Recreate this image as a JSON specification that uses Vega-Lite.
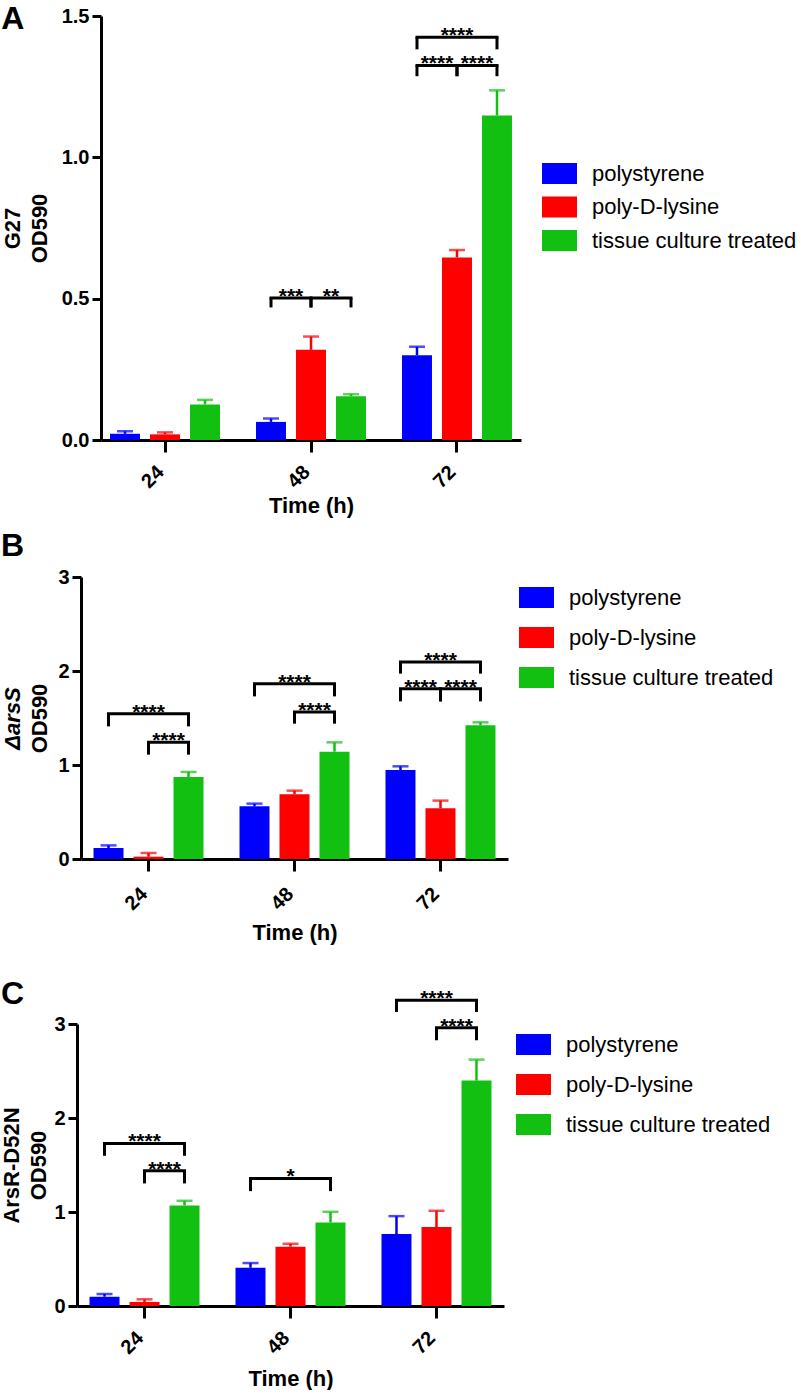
{
  "$schema": "https://vega.github.io/schema/vega-lite/v6.json",
  "padding": {"left": 0, "top": 3, "right": 0, "bottom": 0},
  "spacing": 13,
  "config": {
    "font": "Liberation Sans",
    "view": {"stroke": null},
    "axis": {"domainColor": "#000", "domainWidth": 3, "tickColor": "#000", "tickWidth": 3, "labelColor": "#000", "labelFont": "Liberation Sans", "labelFontSize": 20, "labelFontWeight": "bold", "titleColor": "#000", "titleFont": "Liberation Sans", "titleFontSize": 22, "titleFontWeight": "bold", "grid": false},
    "axisX": {"tickSize": 12, "labelAngle": -45, "labelAlign": "right", "labelBaseline": "alphabetic", "labelPadding": 21, "titlePadding": 4},
    "axisY": {"tickSize": 9, "labelPadding": 3, "titlePadding": 10, "titleLineHeight": 27},
    "legend": {"labelFont": "Liberation Sans", "labelFontSize": 22, "labelColor": "#000", "labelLimit": 0, "symbolType": "M-1,-0.6H1V0.6H-1Z", "symbolSize": 1225, "symbolStrokeWidth": 0, "labelOffset": 15, "title": null, "padding": 0, "orient": "none"},
    "title": {"font": "Liberation Sans", "fontSize": 32, "fontWeight": "bold", "anchor": "start", "frame": "bounds", "color": "#000"}
  },
  "datasets": {
    "bars": [
      {"panel": "A", "time": "24", "surface": "polystyrene", "mean": 0.022, "upper": 0.031},
      {"panel": "A", "time": "24", "surface": "poly-D-lysine", "mean": 0.02, "upper": 0.027},
      {"panel": "A", "time": "24", "surface": "tissue culture treated", "mean": 0.126, "upper": 0.142},
      {"panel": "A", "time": "48", "surface": "polystyrene", "mean": 0.064, "upper": 0.076},
      {"panel": "A", "time": "48", "surface": "poly-D-lysine", "mean": 0.319, "upper": 0.366},
      {"panel": "A", "time": "48", "surface": "tissue culture treated", "mean": 0.155, "upper": 0.162},
      {"panel": "A", "time": "72", "surface": "polystyrene", "mean": 0.30, "upper": 0.33},
      {"panel": "A", "time": "72", "surface": "poly-D-lysine", "mean": 0.646, "upper": 0.672},
      {"panel": "A", "time": "72", "surface": "tissue culture treated", "mean": 1.148, "upper": 1.237},
      {"panel": "B", "time": "24", "surface": "polystyrene", "mean": 0.117, "upper": 0.145},
      {"panel": "B", "time": "24", "surface": "poly-D-lysine", "mean": 0.025, "upper": 0.064},
      {"panel": "B", "time": "24", "surface": "tissue culture treated", "mean": 0.872, "upper": 0.926},
      {"panel": "B", "time": "48", "surface": "polystyrene", "mean": 0.56, "upper": 0.589},
      {"panel": "B", "time": "48", "surface": "poly-D-lysine", "mean": 0.688, "upper": 0.727},
      {"panel": "B", "time": "48", "surface": "tissue culture treated", "mean": 1.142, "upper": 1.241},
      {"panel": "B", "time": "72", "surface": "polystyrene", "mean": 0.947, "upper": 0.986},
      {"panel": "B", "time": "72", "surface": "poly-D-lysine", "mean": 0.539, "upper": 0.621},
      {"panel": "B", "time": "72", "surface": "tissue culture treated", "mean": 1.422, "upper": 1.454},
      {"panel": "C", "time": "24", "surface": "polystyrene", "mean": 0.099, "upper": 0.128},
      {"panel": "C", "time": "24", "surface": "poly-D-lysine", "mean": 0.043, "upper": 0.071},
      {"panel": "C", "time": "24", "surface": "tissue culture treated", "mean": 1.07, "upper": 1.119},
      {"panel": "C", "time": "48", "surface": "polystyrene", "mean": 0.407, "upper": 0.457},
      {"panel": "C", "time": "48", "surface": "poly-D-lysine", "mean": 0.631, "upper": 0.662},
      {"panel": "C", "time": "48", "surface": "tissue culture treated", "mean": 0.889, "upper": 1.002},
      {"panel": "C", "time": "72", "surface": "polystyrene", "mean": 0.765, "upper": 0.956},
      {"panel": "C", "time": "72", "surface": "poly-D-lysine", "mean": 0.84, "upper": 1.013},
      {"panel": "C", "time": "72", "surface": "tissue culture treated", "mean": 2.398, "upper": 2.621}
    ],
    "brackets": [
      {"panel": "A", "time": "48", "id": "A48PL", "from": "polystyrene", "to": "poly-D-lysine", "mid": "polystyrene | poly-D-lysine", "top": 0.502, "leg": 0.469, "label": "***"},
      {"panel": "A", "time": "48", "id": "A48LT", "from": "poly-D-lysine", "to": "tissue culture treated", "mid": "poly-D-lysine | tissue culture treated", "top": 0.502, "leg": 0.469, "label": "**"},
      {"panel": "A", "time": "72", "id": "A72PL", "from": "polystyrene", "to": "poly-D-lysine", "mid": "polystyrene | poly-D-lysine", "top": 1.325, "leg": 1.287, "label": "****"},
      {"panel": "A", "time": "72", "id": "A72LT", "from": "poly-D-lysine", "to": "tissue culture treated", "mid": "poly-D-lysine | tissue culture treated", "top": 1.325, "leg": 1.287, "label": "****"},
      {"panel": "A", "time": "72", "id": "A72PT", "from": "polystyrene", "to": "tissue culture treated", "mid": "poly-D-lysine", "top": 1.425, "leg": 1.382, "label": "****"},
      {"panel": "B", "time": "24", "id": "B24PT", "from": "polystyrene", "to": "tissue culture treated", "mid": "poly-D-lysine", "top": 1.546, "leg": 1.411, "label": "****"},
      {"panel": "B", "time": "24", "id": "B24LT", "from": "poly-D-lysine", "to": "tissue culture treated", "mid": "poly-D-lysine | tissue culture treated", "top": 1.241, "leg": 1.11, "label": "****"},
      {"panel": "B", "time": "48", "id": "B48PT", "from": "polystyrene", "to": "tissue culture treated", "mid": "poly-D-lysine", "top": 1.865, "leg": 1.73, "label": "****"},
      {"panel": "B", "time": "48", "id": "B48LT", "from": "poly-D-lysine", "to": "tissue culture treated", "mid": "poly-D-lysine | tissue culture treated", "top": 1.564, "leg": 1.44, "label": "****"},
      {"panel": "B", "time": "72", "id": "B72PT", "from": "polystyrene", "to": "tissue culture treated", "mid": "poly-D-lysine", "top": 2.096, "leg": 1.972, "label": "****"},
      {"panel": "B", "time": "72", "id": "B72PL", "from": "polystyrene", "to": "poly-D-lysine", "mid": "polystyrene | poly-D-lysine", "top": 1.812, "leg": 1.677, "label": "****"},
      {"panel": "B", "time": "72", "id": "B72LT", "from": "poly-D-lysine", "to": "tissue culture treated", "mid": "poly-D-lysine | tissue culture treated", "top": 1.812, "leg": 1.677, "label": "****"},
      {"panel": "C", "time": "24", "id": "C24PT", "from": "polystyrene", "to": "tissue culture treated", "mid": "poly-D-lysine", "top": 1.729, "leg": 1.598, "label": "****"},
      {"panel": "C", "time": "24", "id": "C24LT", "from": "poly-D-lysine", "to": "tissue culture treated", "mid": "poly-D-lysine | tissue culture treated", "top": 1.438, "leg": 1.304, "label": "****"},
      {"panel": "C", "time": "48", "id": "C48PT", "from": "polystyrene", "to": "tissue culture treated", "mid": "poly-D-lysine", "top": 1.357, "leg": 1.222, "label": "*"},
      {"panel": "C", "time": "72", "id": "C72PT", "from": "polystyrene", "to": "tissue culture treated", "mid": "poly-D-lysine", "top": 3.252, "leg": 3.128, "label": "****"},
      {"panel": "C", "time": "72", "id": "C72LT", "from": "poly-D-lysine", "to": "tissue culture treated", "mid": "poly-D-lysine | tissue culture treated", "top": 2.961, "leg": 2.827, "label": "****"}
    ]
  },
  "resolve": {"scale": {"x": "independent", "y": "independent", "color": "independent"}, "legend": {"color": "independent"}},
  "vconcat": [
    {
      "width": 420, "height": 424,
      "title": {"text": "A", "offset": -30},
      "layer": [
        {
          "data": {"name": "bars"}, "transform": [{"filter": "datum.panel === 'A'"}],
          "mark": {"type": "bar", "width": 30},
          "encoding": {
            "x": {"field": "time", "type": "nominal", "sort": ["24", "48", "72"], "scale": {"paddingInner": 0.315, "paddingOuter": 0.096}, "axis": {"title": "Time (h)"}},
            "xOffset": {"field": "surface", "type": "nominal", "scale": {"domain": ["polystyrene", "polystyrene | poly-D-lysine", "poly-D-lysine", "poly-D-lysine | tissue culture treated", "tissue culture treated"], "paddingInner": 0, "paddingOuter": 0}},
            "y": {"field": "mean", "type": "quantitative", "scale": {"domain": [0, 1.5], "nice": false}, "axis": {"title": ["G27", "OD590"], "values": [0, 0.5, 1, 1.5], "format": ".1f", "titlePadding": 10}},
            "color": {"field": "surface", "type": "nominal", "scale": {"domain": ["polystyrene", "poly-D-lysine", "tissue culture treated"], "range": ["#0000ff", "#ff0000", "#12c012"]}, "legend": {"legendX": 441, "legendY": 140, "rowPadding": 4.5}}
          }
        },
        {
          "data": {"name": "bars"}, "transform": [{"filter": "datum.panel === 'A'"}],
          "mark": {"type": "rule", "strokeWidth": 2.5},
          "encoding": {
            "x": {"field": "time", "type": "nominal", "sort": ["24", "48", "72"]},
            "xOffset": {"field": "surface", "type": "nominal"},
            "y": {"field": "mean", "type": "quantitative"},
            "y2": {"field": "upper"},
            "color": {"field": "surface", "type": "nominal", "legend": null}
          }
        },
        {
          "data": {"name": "bars"}, "transform": [{"filter": "datum.panel === 'A'"}],
          "mark": {"type": "tick", "size": 16, "thickness": 2.5, "orient": "horizontal"},
          "encoding": {
            "x": {"field": "time", "type": "nominal", "sort": ["24", "48", "72"]},
            "xOffset": {"field": "surface", "type": "nominal"},
            "y": {"field": "upper", "type": "quantitative"},
            "color": {"field": "surface", "type": "nominal", "legend": null}
          }
        },
        {
          "data": {"name": "brackets"}, "transform": [{"filter": "datum.panel === 'A'"}, {"fold": ["from", "to"], "as": ["end", "pos"]}],
          "mark": {"type": "line", "strokeWidth": 3, "color": "#000", "strokeCap": "square"},
          "encoding": {
            "x": {"field": "time", "type": "nominal", "sort": ["24", "48", "72"]},
            "xOffset": {"field": "pos", "type": "nominal"},
            "y": {"field": "top", "type": "quantitative"},
            "detail": {"field": "id"}
          }
        },
        {
          "data": {"name": "brackets"}, "transform": [{"filter": "datum.panel === 'A'"}, {"fold": ["from", "to"], "as": ["end", "pos"]}],
          "mark": {"type": "rule", "strokeWidth": 3, "color": "#000"},
          "encoding": {
            "x": {"field": "time", "type": "nominal", "sort": ["24", "48", "72"]},
            "xOffset": {"field": "pos", "type": "nominal"},
            "y": {"field": "top", "type": "quantitative"},
            "y2": {"field": "leg"}
          }
        },
        {
          "data": {"name": "brackets"}, "transform": [{"filter": "datum.panel === 'A'"}],
          "mark": {"type": "text", "baseline": "alphabetic", "dy": 5, "fontSize": 21, "fontWeight": "bold", "color": "#000"},
          "encoding": {
            "x": {"field": "time", "type": "nominal", "sort": ["24", "48", "72"]},
            "xOffset": {"field": "mid", "type": "nominal"},
            "y": {"field": "top", "type": "quantitative"},
            "text": {"field": "label"}
          }
        }
      ]
    },
    {
      "width": 407, "height": 282,
      "title": {"text": "B", "offset": 4},
      "resolve": {"axis": {"y": "independent"}},
      "layer": [
        {
          "data": {"name": "bars"}, "transform": [{"filter": "datum.panel === 'B'"}],
          "mark": {"type": "bar", "width": 30},
          "encoding": {
            "x": {"field": "time", "type": "nominal", "sort": ["24", "48", "72"], "scale": {"range": [-20, 407], "paddingInner": 0.315, "paddingOuter": 0.12}, "axis": {"title": ["Time (h)", ""], "titleLineHeight": 21, "labelPadding": 24, "titlePadding": 9}},
            "xOffset": {"field": "surface", "type": "nominal", "scale": {"domain": ["polystyrene", "polystyrene | poly-D-lysine", "poly-D-lysine", "poly-D-lysine | tissue culture treated", "tissue culture treated"], "paddingInner": 0, "paddingOuter": 0}},
            "y": {"field": "mean", "type": "quantitative", "scale": {"domain": [0, 3], "nice": false}, "axis": {"title": "OD590", "values": [0, 1, 2, 3], "format": "d", "offset": 20, "titlePadding": 6}},
            "color": {"field": "surface", "type": "nominal", "scale": {"domain": ["polystyrene", "poly-D-lysine", "tissue culture treated"], "range": ["#0000ff", "#ff0000", "#12c012"]}, "legend": {"legendX": 418, "legendY": 3, "rowPadding": 11}}
          }
        },
        {
          "data": {"name": "bars"}, "transform": [{"filter": "datum.panel === 'B'"}],
          "mark": {"type": "rule", "strokeWidth": 2.5},
          "encoding": {
            "x": {"field": "time", "type": "nominal", "sort": ["24", "48", "72"]},
            "xOffset": {"field": "surface", "type": "nominal"},
            "y": {"field": "mean", "type": "quantitative", "axis": {"orient": "left", "title": "ΔarsS", "titleFontStyle": "italic", "labels": false, "ticks": false, "domain": false, "titlePadding": 57, "offset": 20}},
            "y2": {"field": "upper"},
            "color": {"field": "surface", "type": "nominal", "legend": null}
          }
        },
        {
          "data": {"name": "bars"}, "transform": [{"filter": "datum.panel === 'B'"}],
          "mark": {"type": "tick", "size": 16, "thickness": 2.5, "orient": "horizontal"},
          "encoding": {
            "x": {"field": "time", "type": "nominal", "sort": ["24", "48", "72"]},
            "xOffset": {"field": "surface", "type": "nominal"},
            "y": {"field": "upper", "type": "quantitative", "axis": null},
            "color": {"field": "surface", "type": "nominal", "legend": null}
          }
        },
        {
          "data": {"name": "brackets"}, "transform": [{"filter": "datum.panel === 'B'"}, {"fold": ["from", "to"], "as": ["end", "pos"]}],
          "mark": {"type": "line", "strokeWidth": 3, "color": "#000", "strokeCap": "square"},
          "encoding": {
            "x": {"field": "time", "type": "nominal", "sort": ["24", "48", "72"]},
            "xOffset": {"field": "pos", "type": "nominal"},
            "y": {"field": "top", "type": "quantitative", "axis": null},
            "detail": {"field": "id"}
          }
        },
        {
          "data": {"name": "brackets"}, "transform": [{"filter": "datum.panel === 'B'"}, {"fold": ["from", "to"], "as": ["end", "pos"]}],
          "mark": {"type": "rule", "strokeWidth": 3, "color": "#000"},
          "encoding": {
            "x": {"field": "time", "type": "nominal", "sort": ["24", "48", "72"]},
            "xOffset": {"field": "pos", "type": "nominal"},
            "y": {"field": "top", "type": "quantitative", "axis": null},
            "y2": {"field": "leg"}
          }
        },
        {
          "data": {"name": "brackets"}, "transform": [{"filter": "datum.panel === 'B'"}],
          "mark": {"type": "text", "baseline": "alphabetic", "dy": 5, "fontSize": 21, "fontWeight": "bold", "color": "#000"},
          "encoding": {
            "x": {"field": "time", "type": "nominal", "sort": ["24", "48", "72"]},
            "xOffset": {"field": "mid", "type": "nominal"},
            "y": {"field": "top", "type": "quantitative", "axis": null},
            "text": {"field": "label"}
          }
        }
      ]
    },
    {
      "width": 403, "height": 282,
      "title": {"text": "C", "offset": -23},
      "layer": [
        {
          "data": {"name": "bars"}, "transform": [{"filter": "datum.panel === 'C'"}],
          "mark": {"type": "bar", "width": 30},
          "encoding": {
            "x": {"field": "time", "type": "nominal", "sort": ["24", "48", "72"], "scale": {"range": [-24, 403], "paddingInner": 0.315, "paddingOuter": 0.12}, "axis": {"title": "Time (h)", "labelPadding": 21, "titlePadding": 11}},
            "xOffset": {"field": "surface", "type": "nominal", "scale": {"domain": ["polystyrene", "polystyrene | poly-D-lysine", "poly-D-lysine", "poly-D-lysine | tissue culture treated", "tissue culture treated"], "paddingInner": 0, "paddingOuter": 0}},
            "y": {"field": "mean", "type": "quantitative", "scale": {"domain": [0, 3], "nice": false}, "axis": {"title": ["ArsR-D52N", "OD590"], "values": [0, 1, 2, 3], "format": "d", "offset": 24, "titlePadding": 3}},
            "color": {"field": "surface", "type": "nominal", "scale": {"domain": ["polystyrene", "poly-D-lysine", "tissue culture treated"], "range": ["#0000ff", "#ff0000", "#12c012"]}, "legend": {"legendX": 415, "legendY": 3, "rowPadding": 11}}
          }
        },
        {
          "data": {"name": "bars"}, "transform": [{"filter": "datum.panel === 'C'"}],
          "mark": {"type": "rule", "strokeWidth": 2.5},
          "encoding": {
            "x": {"field": "time", "type": "nominal", "sort": ["24", "48", "72"]},
            "xOffset": {"field": "surface", "type": "nominal"},
            "y": {"field": "mean", "type": "quantitative"},
            "y2": {"field": "upper"},
            "color": {"field": "surface", "type": "nominal", "legend": null}
          }
        },
        {
          "data": {"name": "bars"}, "transform": [{"filter": "datum.panel === 'C'"}],
          "mark": {"type": "tick", "size": 16, "thickness": 2.5, "orient": "horizontal"},
          "encoding": {
            "x": {"field": "time", "type": "nominal", "sort": ["24", "48", "72"]},
            "xOffset": {"field": "surface", "type": "nominal"},
            "y": {"field": "upper", "type": "quantitative"},
            "color": {"field": "surface", "type": "nominal", "legend": null}
          }
        },
        {
          "data": {"name": "brackets"}, "transform": [{"filter": "datum.panel === 'C'"}, {"fold": ["from", "to"], "as": ["end", "pos"]}],
          "mark": {"type": "line", "strokeWidth": 3, "color": "#000", "strokeCap": "square"},
          "encoding": {
            "x": {"field": "time", "type": "nominal", "sort": ["24", "48", "72"]},
            "xOffset": {"field": "pos", "type": "nominal"},
            "y": {"field": "top", "type": "quantitative"},
            "detail": {"field": "id"}
          }
        },
        {
          "data": {"name": "brackets"}, "transform": [{"filter": "datum.panel === 'C'"}, {"fold": ["from", "to"], "as": ["end", "pos"]}],
          "mark": {"type": "rule", "strokeWidth": 3, "color": "#000"},
          "encoding": {
            "x": {"field": "time", "type": "nominal", "sort": ["24", "48", "72"]},
            "xOffset": {"field": "pos", "type": "nominal"},
            "y": {"field": "top", "type": "quantitative"},
            "y2": {"field": "leg"}
          }
        },
        {
          "data": {"name": "brackets"}, "transform": [{"filter": "datum.panel === 'C'"}],
          "mark": {"type": "text", "baseline": "alphabetic", "dy": 5, "fontSize": 21, "fontWeight": "bold", "color": "#000"},
          "encoding": {
            "x": {"field": "time", "type": "nominal", "sort": ["24", "48", "72"]},
            "xOffset": {"field": "mid", "type": "nominal"},
            "y": {"field": "top", "type": "quantitative"},
            "text": {"field": "label"}
          }
        }
      ]
    }
  ]
}
